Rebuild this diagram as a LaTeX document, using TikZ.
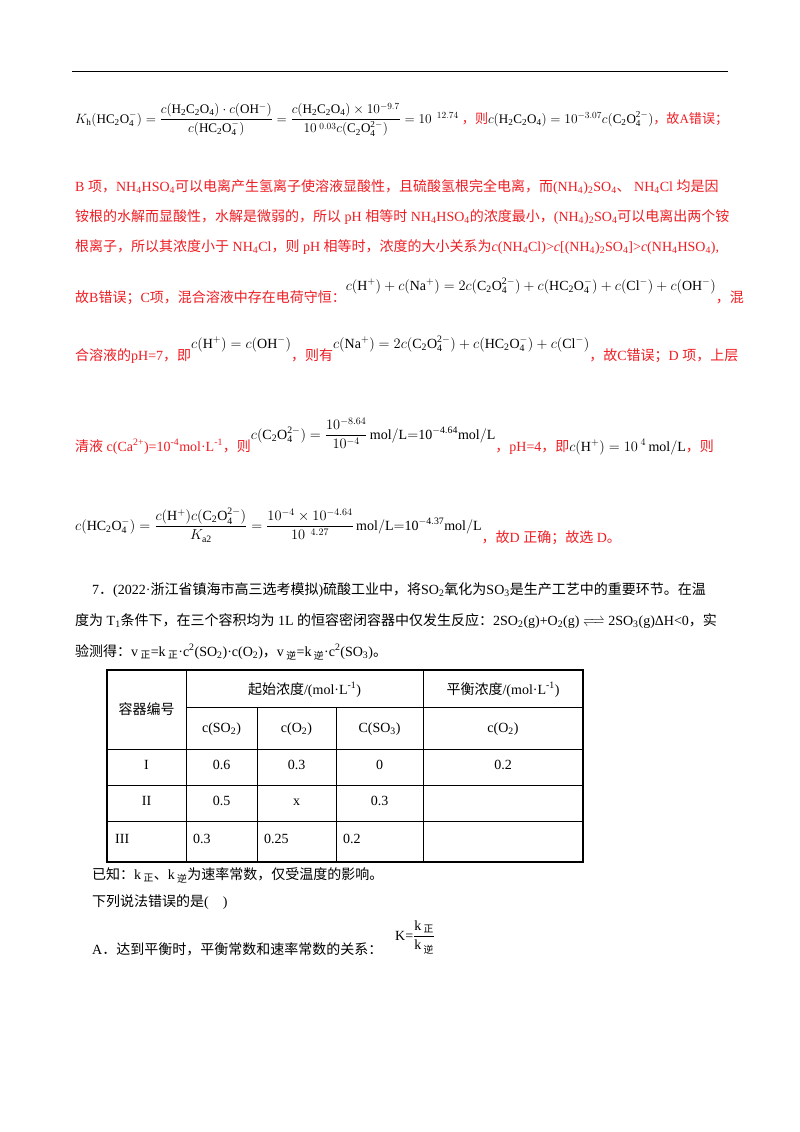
\documentclass[tikz,border=0pt]{standalone}
\usepackage{fontspec}
\usepackage{amsmath,mathtools,graphicx}
\setmainfont{Liberation Serif}
\newfontfamily\cjk{Noto Sans CJK SC}
\newcommand\z[1]{{\cjk #1}}
\definecolor{myred}{RGB}{238,30,36}
\newcommand\R[1]{{\color{myred}#1}}
\newcommand\sbs[1]{\textsubscript{#1}}
\newcommand\sps[1]{\textsuperscript{#1}}
\begin{document}
\begin{tikzpicture}[x=1pt,y=-1pt,
  txt/.style={anchor=base west,inner sep=0pt,font=\fontsize{14}{16}\selectfont},
  cell/.style={anchor=base,inner sep=0pt,font=\fontsize{14}{16}\selectfont},
  cellw/.style={anchor=base west,inner sep=0pt,font=\fontsize{14}{16}\selectfont}]
\useasboundingbox (0,0) rectangle (800,1132);
\fill[white] (0,0) rectangle (800,1132);
\draw[line width=1pt] (72,72) -- (728,72);
% line 1
\node[txt] (l1) at (75,123) {\resizebox{653pt}{!}{$K_{\mathrm h}(\mathrm{HC_2O_4^-})=\dfrac{c(\mathrm{H_2C_2O_4})\cdot c(\mathrm{OH^-})}{c(\mathrm{HC_2O_4^-})}=\dfrac{c(\mathrm{H_2C_2O_4})\times10^{-9.7}}{10^{\;0.03}c(\mathrm{C_2O_4^{2-}})}=10^{\;\;12.74}$ \R{\z{，则}}$c(\mathrm{H_2C_2O_4})=10^{-3.07}c(\mathrm{C_2O_4^{2-}})$\R{\z{，故}A\z{错误；}}}};
\node[txt] (l2) at (75,191) {\R{B \z{项，}NH\sbs{4}HSO\sbs{4}\z{可以电离产生氢离子使溶液显酸性，且硫酸氢根完全电离，而}(NH\sbs{4})\sbs{2}SO\sbs{4}\z{、} NH\sbs{4}Cl \z{均是因}}};
\node[txt] (l3) at (75,221) {\R{\z{铵根的水解而显酸性，水解是微弱的，所以} pH \z{相等时} NH\sbs{4}HSO\sbs{4}\z{的浓度最小，}(NH\sbs{4})\sbs{2}SO\sbs{4}\z{可以电离出两个铵}}};
\node[txt] (l4) at (75,251) {\R{\z{根离子，所以其浓度小于} NH\sbs{4}Cl\z{，则} pH \z{相等时，浓度的大小关系为}\textit{c}(NH\sbs{4}Cl)>\textit{c}[(NH\sbs{4})\sbs{2}SO\sbs{4}]>\textit{c}(NH\sbs{4}HSO\sbs{4}),}};
\node[txt] (l5) at (75,302) {\R{\z{故}B\z{错误；}C\z{项，混合溶液中存在电荷守恒：}}\raisebox{12pt}{\resizebox{370pt}{!}{$c(\mathrm{H^+})+c(\mathrm{Na^+})=2c(\mathrm{C_2O_4^{2-}})+c(\mathrm{HC_2O_4^-})+c(\mathrm{Cl^-})+c(\mathrm{OH^-})$}}\R{\z{，混}}};
\node[txt] (l6) at (75,360) {\R{\z{合溶液的}pH=7\z{，即}}\raisebox{12pt}{$c(\mathrm{H^+})=c(\mathrm{OH^-})$}\R{\z{，则有}}\raisebox{12pt}{$c(\mathrm{Na^+})=2c(\mathrm{C_2O_4^{2-}})+c(\mathrm{HC_2O_4^-})+c(\mathrm{Cl^-})$}\R{\z{，故}C\z{错误；}D \z{项，上层}}};
\node[txt] (l7) at (75,451) {\R{\z{清液} c(Ca\sps{2+})=10\sps{-4}mol·L\sps{-1}\z{，则}}\raisebox{12pt}{$c(\mathrm{C_2O_4^{2-}})=\dfrac{10^{-8.64}}{10^{-4}}\,\mathrm{mol/L{=}10^{-4.64}mol/L}$}\R{\z{，}pH=4\z{，即}}$c(\mathrm{H^+})=10^{\;4}\,\mathrm{mol/L}$\R{\z{，则}}};
\node[txt] (l8) at (75,530) {$c(\mathrm{HC_2O_4^-})=\dfrac{c(\mathrm{H^+})c(\mathrm{C_2O_4^{2-}})}{K_{\mathrm{a2}}}=\dfrac{10^{-4}\times10^{-4.64}}{10^{\;\;4.27}}\,\mathrm{mol/L{=}10^{-4.37}mol/L}$\raisebox{-12pt}{\R{\z{，故}D \z{正确；故选} D\z{。}}}};
% question 7
\node[txt] (q1) at (92,594) {7\z{．}(2022·\z{浙江省镇海市高三选考模拟})\z{硫酸工业中，将}SO\sbs{2}\z{氧化为}SO\sbs{3}\z{是生产工艺中的重要环节。在温}};
\node[txt] (q2) at (75,625) {\z{度为} T\sbs{1}\z{条件下，在三个容积均为} 1L \z{的恒容密闭容器中仅发生反应：}2SO\sbs{2}(g)+O\sbs{2}(g) $\xrightleftharpoons{\hspace{14pt}}$ 2SO\sbs{3}(g)ΔH<0\z{，实}};
\node[txt] (q3) at (75,656) {\z{验测得：}v\,\sbs{\z{正}}=k\,\sbs{\z{正}}·c\sps{2}(SO\sbs{2})·c(O\sbs{2})\z{，}v\,\sbs{\z{逆}}=k\,\sbs{\z{逆}}·c\sps{2}(SO\sbs{3})\z{。}};
% table
\draw[line width=1.2pt] (107,670) rectangle (583,862);
\draw[line width=1pt] (186,707) -- (583,707);
\draw[line width=1pt] (107,749) -- (583,749) (107,785) -- (583,785) (107,821) -- (583,821);
\draw[line width=1pt] (186,670) -- (186,862) (423,670) -- (423,862);
\draw[line width=1pt] (257,707) -- (257,862) (336,707) -- (336,862);
\node[cell] (h0) at (146.5,714) {\z{容器编号}};
\node[cell] (h1) at (304.5,694) {\z{起始浓度}/(mol·L\sps{-1})};
\node[cell] (h2) at (503,694) {\z{平衡浓度}/(mol·L\sps{-1})};
\node[cell] (c1) at (221.5,732) {c(SO\sbs{2})};
\node[cell] (c2) at (296.5,732) {c(O\sbs{2})};
\node[cell] (c3) at (379.5,732) {C(SO\sbs{3})};
\node[cell] (c4) at (503,732) {c(O\sbs{2})};
\node[cell] (r11) at (146.5,769) {I};
\node[cell] (r12) at (221.5,769) {0.6};
\node[cell] (r13) at (296.5,769) {0.3};
\node[cell] (r14) at (379.5,769) {0};
\node[cell] (r15) at (503,769) {0.2};
\node[cell] (r21) at (146.5,805) {II};
\node[cell] (r22) at (221.5,805) {0.5};
\node[cell] (r23) at (296.5,805) {x};
\node[cell] (r24) at (379.5,805) {0.3};
\node[cellw] (r31) at (115,843) {III};
\node[cellw] (r32) at (193,843) {0.3};
\node[cellw] (r33) at (264,843) {0.25};
\node[cellw] (r34) at (343,843) {0.2};
\node[txt] (k1) at (92,879) {\z{已知：}k\,\sbs{\z{正}}\z{、}k\,\sbs{\z{逆}}\z{为速率常数，仅受温度的影响。}};
\node[txt] (k2) at (92,906) {\z{下列说法错误的是}(\quad)};
\node[txt] (a1) at (92,954) {A\z{．达到平衡时，平衡常数和速率常数的关系：}};
\node[txt] (a2) at (395,940) {K=$\dfrac{\text{k\,\sbs{\z{正}}}}{\text{k\,\sbs{\z{逆}}}}$};
\end{tikzpicture}
\end{document}
